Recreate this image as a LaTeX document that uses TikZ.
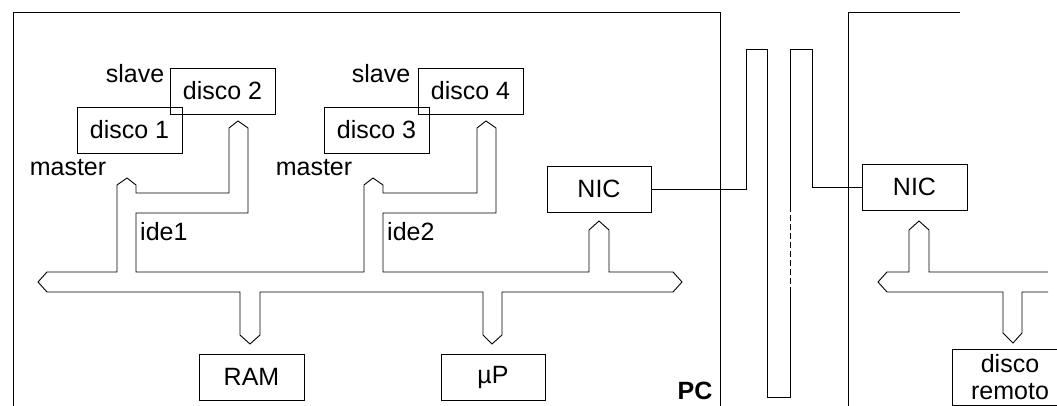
\documentclass[tikz,border=0pt]{standalone}
\usepackage{fontspec}
\setmainfont{Liberation Sans}
\usepackage{tikz}

\begin{document}
\begin{tikzpicture}[x=1pt, y=-1pt,
                  box/.style={draw, line width=0.9pt, inner sep=0pt, align=center,
                              minimum width=105pt, minimum height=46pt,
                              font=\fontsize{25}{28}\selectfont},
                  lbl/.style={inner sep=0pt, font=\fontsize{25}{28}\selectfont},
                  bus/.style={line width=0.9pt, line join=miter},
                  wire/.style={line width=0.9pt},
            ]
            \useasboundingbox (0,0) rectangle (1057,406);
            \clip (0,0) rectangle (1057,406);

            % the two machines
            \draw[wire] (13,430) -- (13,12) -- (720,12) -- (720,430);
            \draw[wire] (848,430) -- (848,12) -- (960,12);
            \node[lbl, font=\fontsize{25}{28}\selectfont\bfseries] (pc) at (695,391) {PC};

            % disks and cards
            \node[box] (disco1) at (129.5,130) {disco 1};
            \node[box] (disco2) at (222.5,91) {disco 2};
            \node[box] (disco3) at (376.5,130) {disco 3};
            \node[box] (disco4) at (470.5,91) {disco 4};
            \node[box, minimum width=104pt] (nicA) at (599,189) {NIC};
            \node[box] (ram) at (251.5,377) {RAM};
            \node[box, minimum width=104pt] (up) at (493,377) {µP};
            \node[box] (nicB) at (914.5,187) {NIC};
            \node[box, minimum width=116pt, minimum height=56pt,
                  font=\fontsize{25}{27}\selectfont] (remoto) at (1010,377) {disco\\remoto};

            \node[lbl] (slave1) at (135,74) {slave};
            \node[lbl] (master1) at (68,168) {master};
            \node[lbl, anchor=west] (ide1) at (140,232) {ide1};
            \node[lbl] (slave2) at (381,74) {slave};
            \node[lbl] (master2) at (314,168) {master};
            \node[lbl, anchor=west] (ide2) at (387,232) {ide2};

            % bus of the PC
            \draw[bus] (38,282) -- (47,272) -- (117,272) -- (117,185) -- (127,178) -- (136,185)
                  -- (136,193) -- (229,193) -- (229,128) -- (238,121) -- (248,128) -- (248,213)
                  -- (136,213) -- (136,272) -- (364,272) -- (364,185) -- (373,178) -- (383,185)
                  -- (383,193) -- (477,193) -- (477,128) -- (486,121) -- (496,128) -- (496,213)
                  -- (383,213) -- (383,272) -- (589,272) -- (589,230) -- (599,221) -- (609,230)
                  -- (609,272) -- (673,272) -- (682,282) -- (673,292) -- (502,292) -- (502,335)
                  -- (492,344) -- (483,335) -- (483,292) -- (260,292) -- (260,335) -- (250,344)
                  -- (240,335) -- (240,292) -- (47,292) -- cycle;

            % bus of the remote machine
            \draw[bus] (1048,272) -- (929,272) -- (929,230) -- (919,221) -- (909,230) -- (909,272)
                  -- (887,272) -- (878,282) -- (887,292) -- (1003,292) -- (1003,333) -- (1013,343)
                  -- (1022,333) -- (1022,292) -- (1048,292);

            % network cable
            \draw[wire] (nicA.east) -| (746,49) -- (767,49) -- (767,397) -- (790,397) -- (790,293);
            \draw[wire, dash pattern=on 6pt off 3pt] (790,293) -- (790,207);
            \draw[wire] (790,207) -- (790,49) -- (812,49) |- (nicB.west);

      \end{tikzpicture}
\end{document}
